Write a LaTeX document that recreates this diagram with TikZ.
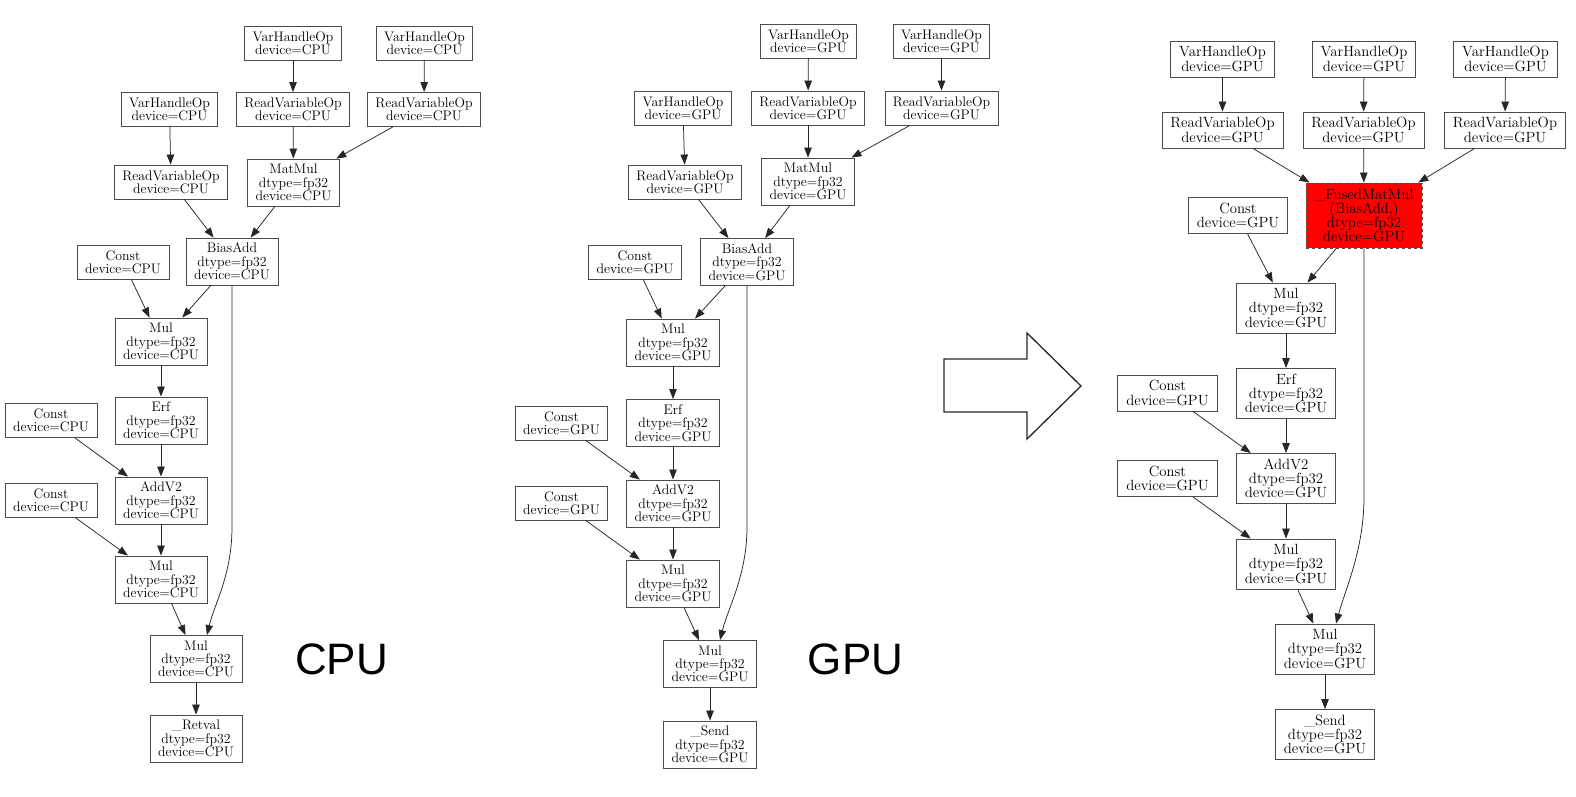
\documentclass[tikz,border=0pt]{standalone}
\usepackage{fontspec}
\newfontfamily\labelfont{Liberation Sans}
\usetikzlibrary{arrows.meta,calc}
\begin{document}
\begin{tikzpicture}[x=1pt,y=-1pt,
  op/.style={draw=black!70, line width=0.9pt, text=black, align=center,
    inner xsep=8pt, inner ysep=1pt, font=\fontsize{13.8}{13.3}\selectfont},
  opTwo/.style={op, minimum height=34pt},
  opThree/.style={op, minimum height=47pt},
  bigfont/.style={font=\fontsize{14.8}{14.2}\selectfont, inner xsep=8.5pt},
  bTwo/.style={op, bigfont, minimum height=36pt},
  bThree/.style={op, bigfont, minimum height=50pt},
  fused/.style={op, bigfont, minimum height=65pt, fill=red, dashed},
  edge/.style={draw=black!85, line width=0.75pt, -{Triangle[length=10pt,width=7.5pt]}},
  biglabel/.style={font=\labelfont\fontsize{44}{44}\selectfont, text=black},
  bigarrow/.style={draw=black!85, line width=1.3pt, line join=miter}]
\useasboundingbox (0,0) rectangle (1576,796);

% ---------------- CPU graph ----------------
\node[opTwo] (a1) at (293,43) {VarHandleOp\\device=CPU};
\node[opTwo] (a2) at (424.5,43) {VarHandleOp\\device=CPU};
\node[opTwo] (a3) at (169.5,109.5) {VarHandleOp\\device=CPU};
\node[opTwo] (a4) at (293,109.5) {ReadVariableOp\\device=CPU};
\node[opTwo] (a5) at (424,109.5) {ReadVariableOp\\device=CPU};
\node[opTwo] (a6) at (171,182) {ReadVariableOp\\device=CPU};
\node[opThree] (a7) at (293.5,182.5) {MatMul\\dtype=fp32\\device=CPU};
\node[opThree] (a8) at (232,261.5) {BiasAdd\\dtype=fp32\\device=CPU};
\node[opTwo] (a9) at (123,262) {Const\\device=CPU};
\node[opThree] (a10) at (161,341.5) {Mul\\dtype=fp32\\device=CPU};
\node[opThree] (a11) at (161,420.5) {Erf\\dtype=fp32\\device=CPU};
\node[opTwo] (a12) at (51,420.5) {Const\\device=CPU};
\node[opThree] (a13) at (161,500.5) {AddV2\\dtype=fp32\\device=CPU};
\node[opTwo] (a14) at (51,500) {Const\\device=CPU};
\node[opThree] (a15) at (161,579.5) {Mul\\dtype=fp32\\device=CPU};
\node[opThree] (a16) at (196,659) {Mul\\dtype=fp32\\device=CPU};
\node[opThree] (a17) at (196,738.5) {\_Retval\\dtype=fp32\\device=CPU};
\node[biglabel] (cpu) at (341.5,659) {CPU};

\draw[edge] (a1) -- (a4);
\draw[edge] (a2) -- (a5);
\draw[edge] (a3) -- (a6);
\draw[edge] (a4) -- (a7);
\draw[edge] (a5) -- (a7);
\draw[edge] (a6) -- (a8);
\draw[edge] (a7) -- (a8);
\draw[edge] (a9) -- (a10);
\draw[edge] (a8) -- (a10);
\draw[edge] (a10) -- (a11);
\draw[edge] (a11) -- (a13);
\draw[edge] (a12) -- (a13);
\draw[edge] (a13) -- (a15);
\draw[edge] (a14) -- (a15);
\draw[edge] (a15) -- (a16);
\draw[edge] (a16) -- (a17);
\draw[edge] (a8.south) -- (232,527) .. controls (232,575) and (214,605) .. ($(a16.north)+(11,0)$);

% ---------------- GPU graph ----------------
\node[opTwo] (b1) at (808.5,41) {VarHandleOp\\device=GPU};
\node[opTwo] (b2) at (941.5,41) {VarHandleOp\\device=GPU};
\node[opTwo] (b3) at (683,108) {VarHandleOp\\device=GPU};
\node[opTwo] (b4) at (808,108) {ReadVariableOp\\device=GPU};
\node[opTwo] (b5) at (941.5,108) {ReadVariableOp\\device=GPU};
\node[opTwo] (b6) at (685,182) {ReadVariableOp\\device=GPU};
\node[opThree] (b7) at (808,181.5) {MatMul\\dtype=fp32\\device=GPU};
\node[opThree] (b8) at (747,262) {BiasAdd\\dtype=fp32\\device=GPU};
\node[opTwo] (b9) at (635,262) {Const\\device=GPU};
\node[opThree] (b10) at (673,342.5) {Mul\\dtype=fp32\\device=GPU};
\node[opThree] (b11) at (673,423) {Erf\\dtype=fp32\\device=GPU};
\node[opTwo] (b12) at (561.5,423) {Const\\device=GPU};
\node[opThree] (b13) at (673,503.5) {AddV2\\dtype=fp32\\device=GPU};
\node[opTwo] (b14) at (561.5,503) {Const\\device=GPU};
\node[opThree] (b15) at (673,583.5) {Mul\\dtype=fp32\\device=GPU};
\node[opThree] (b16) at (710,664) {Mul\\dtype=fp32\\device=GPU};
\node[opThree] (b17) at (710,744.5) {\_Send\\dtype=fp32\\device=GPU};
\node[biglabel] (gpu) at (855.5,659.5) {GPU};

\draw[edge] (b1) -- (b4);
\draw[edge] (b2) -- (b5);
\draw[edge] (b3) -- (b6);
\draw[edge] (b4) -- (b7);
\draw[edge] (b5) -- (b7);
\draw[edge] (b6) -- (b8);
\draw[edge] (b7) -- (b8);
\draw[edge] (b9) -- (b10);
\draw[edge] (b8) -- (b10);
\draw[edge] (b10) -- (b11);
\draw[edge] (b11) -- (b13);
\draw[edge] (b12) -- (b13);
\draw[edge] (b13) -- (b15);
\draw[edge] (b14) -- (b15);
\draw[edge] (b15) -- (b16);
\draw[edge] (b16) -- (b17);
\draw[edge] (b8.south) -- (747,527) .. controls (747,575) and (728,608) .. ($(b16.north)+(10,0)$);

% ---------------- big arrow ----------------
\draw[bigarrow] (944,359) -- (1027,359) -- (1027,333) -- (1081,386) -- (1027,439) -- (1027,412) -- (944,412) -- cycle;

% ---------------- fused GPU graph ----------------
\node[bTwo] (c1) at (1222.5,59) {VarHandleOp\\device=GPU};
\node[bTwo] (c2) at (1364,59) {VarHandleOp\\device=GPU};
\node[bTwo] (c3) at (1505.5,59) {VarHandleOp\\device=GPU};
\node[bTwo] (c4) at (1222.5,130) {ReadVariableOp\\device=GPU};
\node[bTwo] (c5) at (1363.5,130) {ReadVariableOp\\device=GPU};
\node[bTwo] (c6) at (1505,130) {ReadVariableOp\\device=GPU};
\node[fused] (c7) at (1364,215.5) {\_FusedMatMul\\(BiasAdd,)\\dtype=fp32\\device=GPU};
\node[bTwo] (c8) at (1238,215.5) {Const\\device=GPU};
\node[bThree] (c9) at (1286,308) {Mul\\dtype=fp32\\device=GPU};
\node[bThree] (c10) at (1286,393.5) {Erf\\dtype=fp32\\device=GPU};
\node[bTwo] (c11) at (1167.5,393) {Const\\device=GPU};
\node[bThree] (c12) at (1286,478.5) {AddV2\\dtype=fp32\\device=GPU};
\node[bTwo] (c13) at (1167.5,478.5) {Const\\device=GPU};
\node[bThree] (c14) at (1286,564) {Mul\\dtype=fp32\\device=GPU};
\node[bThree] (c15) at (1325,649) {Mul\\dtype=fp32\\device=GPU};
\node[bThree] (c16) at (1325,734.5) {\_Send\\dtype=fp32\\device=GPU};

\draw[edge] (c1) -- (c4);
\draw[edge] (c2) -- (c5);
\draw[edge] (c3) -- (c6);
\draw[edge] (c4) -- (c7);
\draw[edge] (c5) -- (c7);
\draw[edge] (c6) -- (c7);
\draw[edge] (c8) -- (c9);
\draw[edge] (c7) -- (c9);
\draw[edge] (c9) -- (c10);
\draw[edge] (c10) -- (c12);
\draw[edge] (c11) -- (c12);
\draw[edge] (c12) -- (c14);
\draw[edge] (c13) -- (c14);
\draw[edge] (c14) -- (c15);
\draw[edge] (c15) -- (c16);
\draw[edge] (c7.south) -- (1364,497) .. controls (1364,550) and (1345,590) .. ($(c15.north)+(11,0)$);
\end{tikzpicture}
\end{document}
